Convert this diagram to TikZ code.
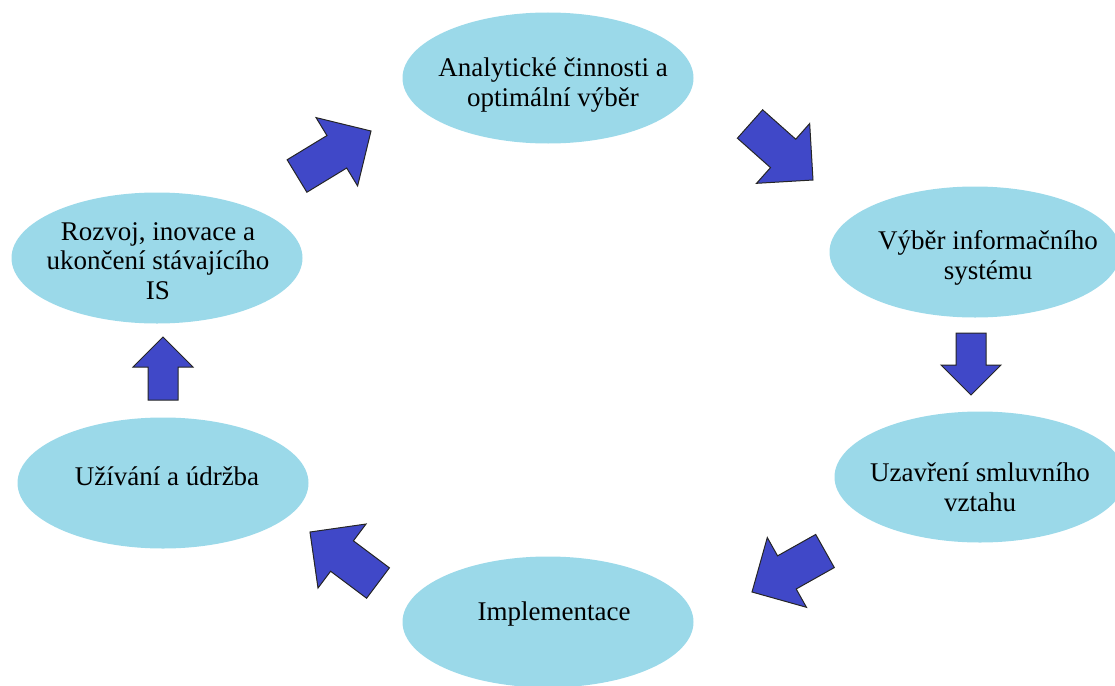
\documentclass[tikz,border=0pt]{standalone}
\usepackage{fontspec}
\setmainfont{Liberation Serif}
\usetikzlibrary{shapes.geometric,calc}
\definecolor{ellblue}{RGB}{155,217,233}
\definecolor{arrblue}{RGB}{64,72,200}

\begin{document}
\begin{tikzpicture}[x=1pt,y=-1pt]
    \tikzstyle{E}=[ellipse,fill=ellblue,inner sep=0pt,minimum width=291pt,minimum height=131pt]
    \tikzstyle{T}=[align=center,inner sep=0pt,font=\fontsize{27}{29.5}\selectfont]
    \tikzstyle{A}=[fill=arrblue,draw=black!85,line width=1pt,line join=miter]

    \useasboundingbox (0,0) rectangle (1115,685);

    % Phases
    \node [E] (analyza) at (548, 78) {};
    \node [E] (vyber)   at (975, 252) {};
    \node [E] (smlouva) at (980, 477) {};
    \node [E] (impl)    at (548, 622) {};
    \node [E] (udrzba)  at (163, 483) {};
    \node [E] (rozvoj)  at (157, 258) {};

    \node [T] (analyza-t) at ([shift={(5,7)}]analyza) {Analytické činnosti a\\optimální výběr};
    \node [T] (vyber-t)   at ([shift={(13,6)}]vyber) {Výběr informačního\\systému};
    \node [T] (smlouva-t) at ([shift={(0,10)}]smlouva) {Uzavření smluvního\\vztahu};
    \node [T] (impl-t)    at ([shift={(6,-8)}]impl) {Implementace};
    \node [T] (udrzba-t)  at ([shift={(4,-7)}]udrzba) {Užívání a údržba};
    \node [T] (rozvoj-t)  at ([shift={(1,3)}]rozvoj) {Rozvoj, inovace a\\ukončení stávajícího\\IS};

    % Arrow ends
    \coordinate (a1t) at (297, 176); \coordinate (a1h) at (371, 131);
    \coordinate (a2t) at (750, 124); \coordinate (a2h) at (813, 180);
    \coordinate (a3t) at (971, 333); \coordinate (a3h) at (971, 395);
    \coordinate (a4t) at (825, 551); \coordinate (a4h) at (752, 592);
    \coordinate (a5t) at (378, 583); \coordinate (a5h) at (310, 532);
    \coordinate (a6t) at (163, 400); \coordinate (a6h) at (163, 337);

    % Block arrows
    \foreach \t/\h/\s/\w in {a1t/a1h/19/40, a2t/a2h/19/40, a3t/a3h/15/30,
                             a4t/a4h/19/40, a5t/a5h/19/40, a6t/a6h/15/30}{
        \coordinate (b) at ($(\h)!\w pt!(\t)$);
        \draw [A] ($(\t)!\s pt!90:(\h)$) -- ($(b)!\s pt!-90:(\t)$)
            -- ($(b)!\w pt!-90:(\t)$) -- (\h) -- ($(b)!\w pt!90:(\t)$)
            -- ($(b)!\s pt!90:(\t)$) -- ($(\t)!\s pt!-90:(\h)$) -- cycle;
    }

\end{tikzpicture}
\end{document}
